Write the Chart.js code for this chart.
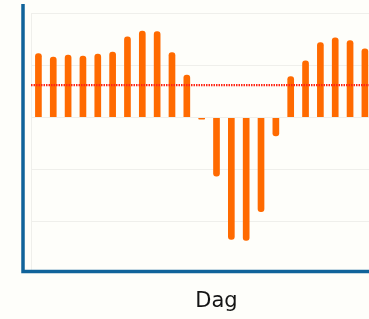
<!DOCTYPE html>
<html>
<head>
<meta charset="utf-8">
<script src="https://cdn.jsdelivr.net/npm/chart.js@4.4.1/dist/chart.umd.min.js"></script>
<style>
    html, body { margin: 0; padding: 0; background: #fefefa; overflow: hidden; }
    canvas { display: block; }
</style>
</head>
<body>
<canvas id="dagChart" width="402" height="319"></canvas>
<script>
// Days on the x axis (the picture is cut off on the right)
const days = ["1", "2", "3", "4", "5", "6", "7", "8", "9", "10", "11", "12", "13",
    "14", "15", "16", "17", "18", "19", "20", "21", "22", "23", "24", "25"];

// Bar values
const values = [1.23, 1.16, 1.2, 1.18, 1.22, 1.26, 1.55, 1.66, 1.65, 1.25, 0.82,
    -0.04, -1.13, -2.34, -2.36, -1.81, -0.36, 0.79, 1.09, 1.44, 1.53, 1.48, 1.32];

// Average shown as the red dotted line
const average = 0.62;

// Gridline positions on the value axis
const yTicks = [-2, -1, 0, 1, 2];
const yMin = -2.94;
const yMax = 2;

// Average line plus the blue frame drawn just outside the plot area
const framePlugin = {
    id: "frame",
    afterDatasetsDraw(chart) {
        const { ctx, chartArea, scales } = chart;
        const yAvg = scales.y.getPixelForValue(average);
        ctx.save();
        ctx.strokeStyle = "#ff2414";
        ctx.lineWidth = 2.2;
        ctx.setLineDash([1.5, 1]);
        ctx.beginPath();
        ctx.moveTo(chartArea.left, yAvg);
        ctx.lineTo(chartArea.right, yAvg);
        ctx.stroke();
        ctx.restore();
    },
    afterDraw(chart) {
        const { ctx, chartArea } = chart;
        const x = chartArea.left - 8;
        const y = chartArea.bottom + 0.5;
        ctx.save();
        ctx.strokeStyle = "#10639a";
        ctx.lineWidth = 3.5;
        ctx.beginPath();
        ctx.moveTo(x, chartArea.top - 9);
        ctx.lineTo(x, y + 1.5);
        ctx.moveTo(x - 1.75, y);
        ctx.lineTo(chart.width, y);
        ctx.stroke();
        ctx.restore();
    },
};

const ctx = document.getElementById("dagChart");

new Chart(ctx, {
    type: "bar",
    data: {
        labels: days,
        datasets: [
            {
                label: "Waarde",
                data: values,
                backgroundColor: "#ff6a00",
                borderRadius: 3,
                barPercentage: 0.45,
                categoryPercentage: 1,
            },
        ],
    },
    options: {
        responsive: false,
        animation: false,
        layout: { padding: { top: 13, right: 0, left: 0, bottom: 0 } },
        plugins: {
            legend: { display: false },
            tooltip: { enabled: false },
        },
        scales: {
            x: {
                grid: { display: false, drawTicks: false },
                border: { display: false },
                ticks: { display: false },
                title: {
                    display: true,
                    text: "Dag",
                    color: "#141414",
                    font: { family: "'DejaVu Sans', sans-serif", size: 21 },
                    padding: { top: 0, bottom: 5 },
                },
                afterFit(scale) {
                    scale.height = 48;
                },
            },
            y: {
                min: yMin,
                max: yMax,
                grid: { color: "rgba(0, 0, 0, 0.06)", drawTicks: false },
                border: { display: true, color: "rgba(0, 0, 0, 0.06)", width: 1 },
                ticks: { display: false },
                afterBuildTicks(scale) {
                    scale.ticks = yTicks.map((v) => ({ value: v }));
                },
                afterFit(scale) {
                    scale.width = 31;
                },
            },
        },
    },
    plugins: [framePlugin],
});
</script>
</body>
</html>
